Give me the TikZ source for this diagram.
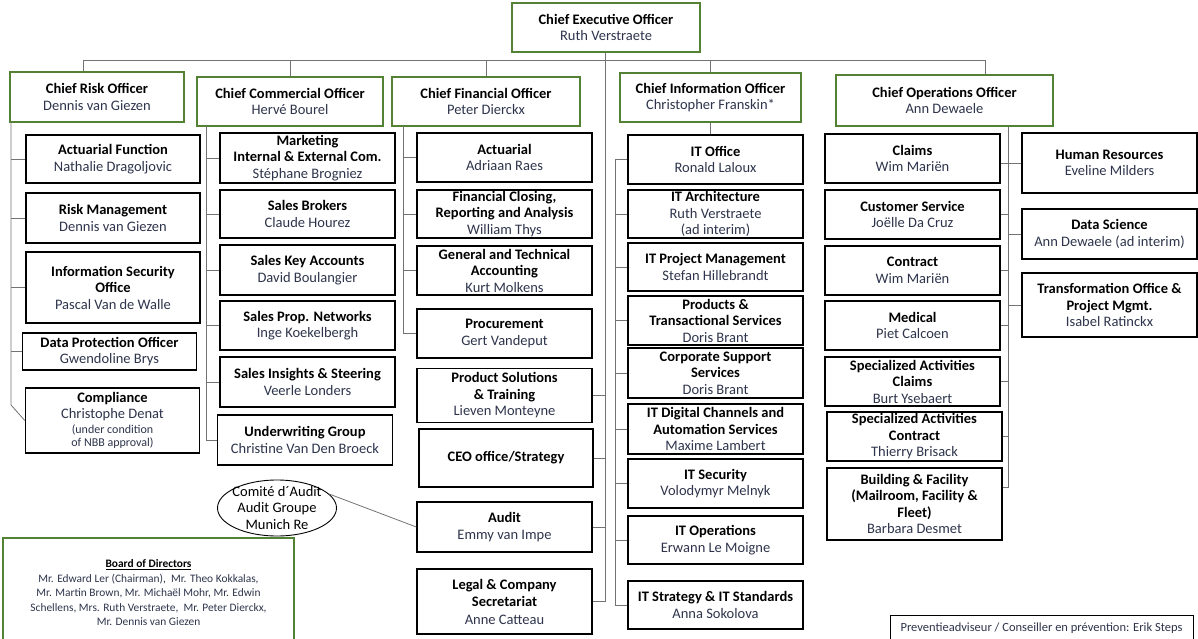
\documentclass[tikz,border=0pt]{standalone}
\usepackage{fontspec}
\setmainfont{Carlito}
\usetikzlibrary{shapes.geometric}
\definecolor{grn}{RGB}{84,130,53}
\definecolor{nm}{RGB}{45,52,75}
\newcommand{\hdr}[1]{\textbf{\textcolor{black}{#1}}}

\begin{document}
\begin{tikzpicture}[x=1pt, y=-1pt,
    every node/.style={font=\fontsize{14.5}{16.5}\selectfont, text=nm},
    chief/.style={draw=grn, line width=2.6pt, align=center, inner sep=1pt},
    orgunit/.style={draw, line width=1.4pt, align=center, inner xsep=2pt,
      inner ysep=0pt, minimum width=175},
    conn/.style={draw=black!55, line width=0.8pt},
  ]
  \useasboundingbox (0,0) rectangle (1198,639);

  % chiefs
  \node[chief, minimum width=188, minimum height=49] (ceo) at (606,27.5) {\hdr{Chief Executive Officer}\\Ruth Verstraete};
  \node[chief, minimum width=174, minimum height=50] (cro) at (97,97) {\hdr{Chief Risk Officer}\\Dennis van Giezen};
  \node[chief, minimum width=186, minimum height=49] (cco) at (290,101.5) {\hdr{Chief Commercial Officer}\\Hervé Bourel};
  \node[chief, minimum width=188, minimum height=49] (cfo) at (486,101.5) {\hdr{Chief Financial Officer}\\Peter Dierckx};
  \node[chief, minimum width=181, minimum height=49] (cio) at (710.5,97.5) {\hdr{Chief Information Officer}\\Christopher Franskin*};
  \node[chief, minimum width=217, minimum height=51] (coo) at (944.5,100.5) {\hdr{Chief Operations Officer}\\Ann Dewaele};

  \coordinate (barL) at (83,60);
  \coordinate (barR) at (985,60);
  \coordinate (ceoT) at (605,601.5);
  \draw[conn] (barL) -- (barR);
  \draw[conn] (barL) -- (barL |- cro.north);
  \draw[conn] (barR) -- (barR |- coo.north);
  \foreach \n in {cco,cfo,cio} \draw[conn] (\n.north) -- (\n.north |- barL);
  \draw[conn] (ceo.south -| ceoT) -- (ceoT);

  % risk
  \coordinate (croT) at (11,122);
  \coordinate (croB) at (11,405);
  \foreach \i/\xc/\yc/\h/\txt in {
      1/113/159/48/{\hdr{Actuarial Function}\\Nathalie Dragoljovic},
      2/113/218/50/{\hdr{Risk Management}\\Dennis van Giezen},
      3/113/287.5/71/{\hdr{Information Security}\\\hdr{Office}\\Pascal Van de Walle},
      4/109.5/351.5/37/{\hdr{Data Protection Officer}\\Gwendoline Brys},
      5/112.5/420.5/65/{\hdr{Compliance}\\Christophe Denat\\[-2pt]{\fontsize{12}{13}\selectfont (under condition}\\[-3pt]{\fontsize{12}{13}\selectfont of NBB approval)}}} {
    \node[orgunit, minimum width=174, minimum height=\h] (cro\i) at (\xc,\yc) {\txt};
  }
  \foreach \i in {1,...,4} \draw[conn] (cro\i.west) -- (cro\i.west -| croT);
  \draw[conn] (croT) -- (croB) -- (cro5.west);

  % commercial
  \coordinate (ccoT) at (206,126);
  \foreach \i/\xc/\yc/\h/\txt in {
      1/307.5/158/50/{\hdr{Marketing}\\\hdr{Internal \& External Com.}\\Stéphane Brogniez},
      2/307.5/214/48/{\hdr{Sales Brokers}\\Claude Hourez},
      3/307.5/270/50/{\hdr{Sales Key Accounts}\\David Boulangier},
      4/307.5/325.5/49/{\hdr{Sales Prop. Networks}\\Inge Koekelbergh},
      5/307.5/382/50/{\hdr{Sales Insights \& Steering}\\Veerle Londers},
      6/305/440/50/{\hdr{Underwriting Group}\\Christine Van Den Broeck}} {
    \node[orgunit, minimum height=\h] (cco\i) at (\xc,\yc) {\txt};
  }
  \foreach \i in {1,...,5} \draw[conn] (cco\i.west) -- (cco\i.west -| ccoT);
  \draw[conn] (ccoT) |- (cco6.west);

  % financial
  \coordinate (cfoT) at (403,126);
  \foreach \i/\yc/\h/\txt in {
      1/157.5/49/{\hdr{Actuarial}\\Adriaan Raes},
      2/214/48/{\hdr{Financial Closing,}\\\hdr{Reporting and Analysis}\\William Thys},
      3/270.5/49/{\hdr{General and Technical}\\\hdr{Accounting}\\Kurt Molkens},
      4/333.5/49/{\hdr{Procurement}\\Gert Vandeput}} {
    \node[orgunit, minimum height=\h] (cfo\i) at (504.5,\yc) {\txt};
  }
  \foreach \i in {1,...,3} \draw[conn] (cfo\i.west) -- (cfo\i.west -| cfoT);
  \draw[conn] (cfoT) |- (cfo4.west);

  % staff of the CEO
  \node[orgunit, minimum height=54] (prodsol) at (504.5,395.5) {\hdr{Product Solutions}\\\hdr{\& Training}\\Lieven Monteyne};
  \node[orgunit, minimum width=174, minimum height=58] (ceooff) at (506,458) {\hdr{CEO office/Strategy}};
  \node[orgunit, minimum height=50] (audit) at (504.5,527) {\hdr{Audit}\\Emmy van Impe};
  \node[orgunit, minimum height=65] (legal) at (504.5,601.5) {\hdr{Legal \& Company}\\[1pt]\hdr{Secretariat}\\[1pt]Anne Catteau};
  \foreach \n in {prodsol,ceooff,audit} \draw[conn] (\n.east) -- (\n.east -| ceoT);
  \draw[conn] (legal.east) -- (ceoT);

  \node[draw, ellipse, line width=0.9pt, inner xsep=-9pt, inner ysep=-4pt,
    minimum width=119, minimum height=56, align=center, text=black] (comite) at (277,508) {Comité d´Audit\\Audit Groupe\\Munich Re};
  \draw[conn] (comite.15) -- (audit.west);

  % information
  \coordinate (cioB) at (615,605);
  \foreach \i/\yc/\h/\txt in {
      1/159.5/49/{\hdr{IT Office}\\Ronald Laloux},
      2/214/48/{\hdr{IT Architecture}\\Ruth Verstraete\\(ad interim)},
      3/267/48/{\hdr{IT Project Management}\\Stefan Hillebrandt},
      4/320.5/49/{\hdr{Products \&}\\\hdr{Transactional Services}\\Doris Brant},
      5/373/50/{\hdr{Corporate Support}\\\hdr{Services}\\Doris Brant},
      6/429/50/{\hdr{IT Digital Channels and}\\\hdr{Automation Services}\\Maxime Lambert},
      7/483.5/49/{\hdr{IT Security}\\Volodymyr Melnyk},
      8/540/48/{\hdr{IT Operations}\\Erwann Le Moigne},
      9/605/48/{\hdr{IT Strategy \& IT Standards}\\Anna Sokolova}} {
    \node[orgunit, minimum height=\h] (cio\i) at (715.5,\yc) {\txt};
  }
  \draw[conn] (cio.south) -- (cio.south |- cio1.north);
  \draw[conn] (cio1.west) -| (cioB) -- (cio9.west);
  \foreach \i in {2,...,8} \draw[conn] (cio\i.west) -- (cio\i.west -| cioB);

  % operations
  \coordinate (cooB) at (1008,487);
  \foreach \i/\xc/\yc/\h/\txt in {
      1/912.5/158.5/49/{\hdr{Claims}\\Wim Mariën},
      2/912.5/214.5/49/{\hdr{Customer Service}\\Joëlle Da Cruz},
      3/912.5/270.5/49/{\hdr{Contract}\\Wim Mariën},
      4/912.5/325.5/49/{\hdr{Medical}\\Piet Calcoen},
      5/912.5/381.5/49/{\hdr{Specialized Activities}\\\hdr{Claims}\\Burt Ysebaert},
      6/914.5/436.5/49/{\hdr{Specialized Activities}\\\hdr{Contract}\\Thierry Brisack},
      7/914.5/504/72/{\hdr{Building \& Facility}\\\hdr{(Mailroom, Facility \&}\\\hdr{Fleet)}\\Barbara Desmet}} {
    \node[orgunit, minimum height=\h] (cool\i) at (\xc,\yc) {\txt};
  }
  \foreach \i/\yc/\h/\txt in {
      1/163/60/{\hdr{Human Resources}\\Eveline Milders},
      2/234/50/{\hdr{Data Science}\\Ann Dewaele (ad interim)},
      3/305/64/{\hdr{Transformation Office \&}\\\hdr{Project Mgmt.}\\Isabel Ratinckx}} {
    \node[orgunit, minimum height=\h] (coor\i) at (1109.5,\yc) {\txt};
  }
  \draw[conn] (coo.south -| cooB) -- (cooB) -- (cooB -| cool7.east);
  \draw[conn] (coor1.west -| cool1.east) -- (coor1.west);
  \foreach \i in {2,...,6} \draw[conn] (cool\i.east) -- (cool\i.east -| cooB);
  \foreach \i in {2,3} \draw[conn] (coor\i.west) -- (coor\i.west -| cooB);

  % board and prevention
  \node[draw=grn, line width=2.6pt, minimum width=291, minimum height=110, align=center,
    font=\fontsize{11.4}{14.5}\selectfont] (board) at (148.5,593) {\hdr{\underline{Board of Directors}}\\Mr. Edward Ler (Chairman),\ \ Mr. Theo Kokkalas,\\Mr. Martin Brown, Mr. Michaël Mohr, Mr. Edwin\\Schellens, Mrs. Ruth Verstraete,\ \ Mr. Peter Dierckx,\\Mr. Dennis van Giezen};
  \node[draw, line width=0.9pt, minimum width=303, minimum height=26,
    font=\fontsize{12.5}{14}\selectfont] (prev) at (1041.5,628) {Preventieadviseur / Conseiller en prévention: Erik Steps};
\end{tikzpicture}
\end{document}
